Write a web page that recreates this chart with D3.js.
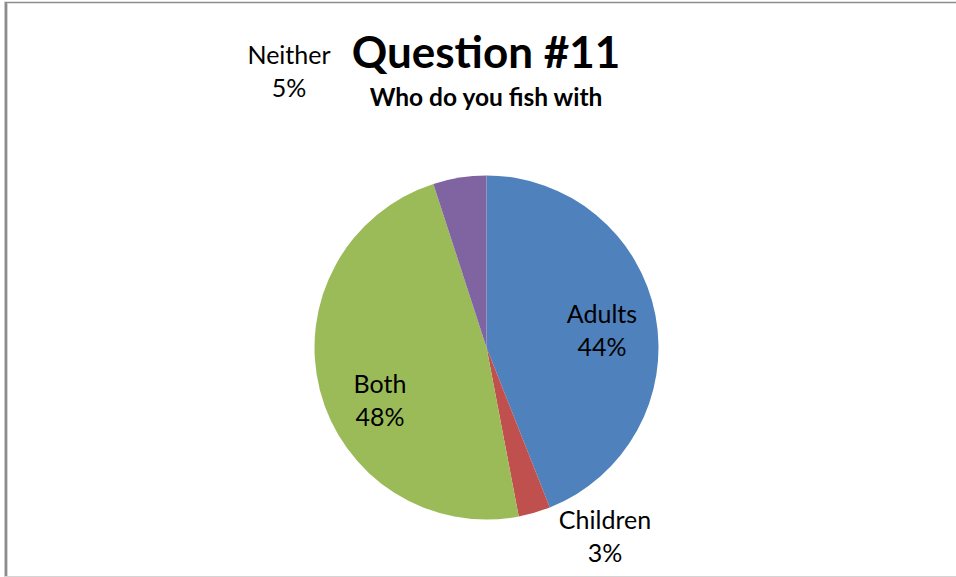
<!DOCTYPE html>
<html>
<head>
<meta charset="utf-8">
<script src="https://cdn.jsdelivr.net/npm/d3@7"></script>
<style>
  html, body { margin: 0; padding: 0; background: #fff; }
  svg { display: block; }
  text { font-family: Lato, "Open Sans", sans-serif; fill: #000; }
</style>
</head>
<body>
<svg id="chart" width="956" height="577"></svg>
<script>
// Survey answers: who respondents fish with (percent)
const categories = ["Adults", "Children", "Both", "Neither"];
const values = [44, 3, 48, 5];
const colors = ["#4F81BD", "#C0504D", "#9BBB59", "#8064A2"];
const title = "Question #11";
const subtitle = "Who do you fish with";

const svg = d3.select("#chart");
const W = 956, H = 577;

// Chart frame
svg.append("rect").attr("x", 0).attr("y", 0).attr("width", W).attr("height", H).attr("fill", "#fff");
svg.append("line").attr("x1", 4).attr("x2", W).attr("y1", 2.5).attr("y2", 2.5)
  .attr("stroke", "#8c8c8c").attr("stroke-width", 1.5);
svg.append("line").attr("x1", 4.5).attr("x2", 4.5).attr("y1", 2).attr("y2", H)
  .attr("stroke", "#c8c8c8").attr("stroke-width", 1);
svg.append("line").attr("x1", 6).attr("x2", 6).attr("y1", 2).attr("y2", H)
  .attr("stroke", "#8c8c8c").attr("stroke-width", 2);
svg.append("line").attr("x1", 7.5).attr("x2", 7.5).attr("y1", 3).attr("y2", H)
  .attr("stroke", "#d4d4d4").attr("stroke-width", 1);
svg.append("line").attr("x1", 4).attr("x2", W).attr("y1", 576.5).attr("y2", 576.5)
  .attr("stroke", "#d4d4d4").attr("stroke-width", 1);

// Titles
svg.append("text").attr("x", 486).attr("y", 68).attr("text-anchor", "middle")
  .style("font-weight", "bold").style("font-size", "44px").text(title);
svg.append("text").attr("x", 486).attr("y", 106).attr("text-anchor", "middle")
  .style("font-weight", "bold").style("font-size", "24.5px").text(subtitle);

// Pie
const cx = 486.5, cy = 347.5, r = 172;
const data = categories.map((c, i) => ({ name: c, value: values[i], color: colors[i] }));
const pie = d3.pie().value(d => d.value).sort(null);
const arcs = pie(data);
const arc = d3.arc().innerRadius(0).outerRadius(r);

const g = svg.append("g").attr("transform", `translate(${cx},${cy})`);
g.selectAll("path").data(arcs).join("path")
  .attr("d", arc)
  .attr("fill", d => d.data.color);

// Data labels: name and percentage, two lines
const labelPos = {
  Adults: [602, 323],
  Children: [605, 529],
  Both: [380, 393],
  Neither: [289, 64]
};
const lineGap = 32.5;
arcs.forEach(a => {
  const [x, y] = labelPos[a.data.name];
  const t = svg.append("text").attr("text-anchor", "middle").style("font-size", "25px");
  t.append("tspan").attr("x", x).attr("y", y).text(a.data.name);
  t.append("tspan").attr("x", x).attr("y", y + lineGap).text(a.data.value + "%");
});
</script>
</body>
</html>
